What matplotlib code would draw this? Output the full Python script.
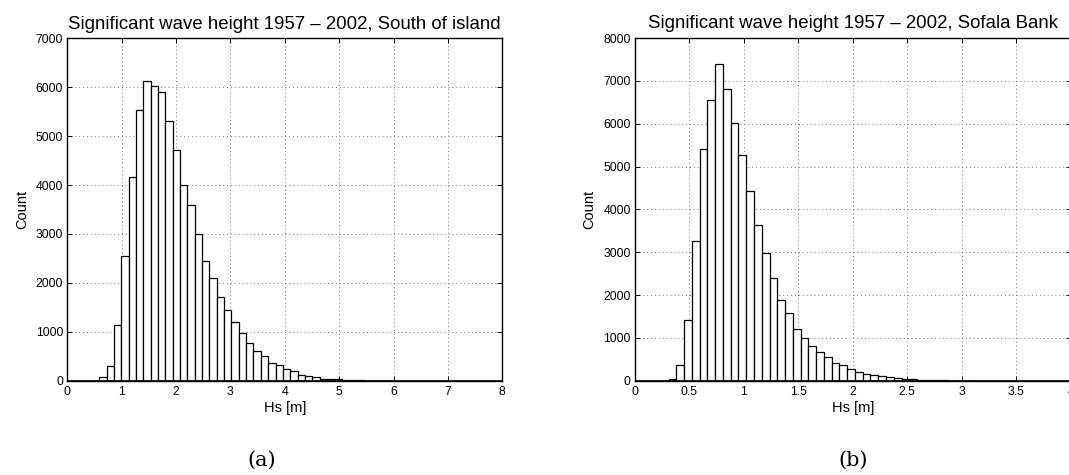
import numpy as np
import matplotlib
matplotlib.use("Agg")
import matplotlib.pyplot as plt

# ---- data ----
# (a) South of island
a_start = 0.587
a_width = 0.1351
a_counts = [85, 295, 1145, 2556, 4166, 5538, 6120, 6020, 5910, 5317, 4717, 4006,
            3602, 2992, 2444, 2100, 1712, 1436, 1195, 975, 768, 614, 497, 356,
            330, 234, 200, 125, 90, 75, 42, 28, 30, 12, 8, 5, 3, 2, 1]
a_xticks = [0, 1, 2, 3, 4, 5, 6, 7, 8]
a_yticks = [0, 1000, 2000, 3000, 4000, 5000, 6000, 7000]
a_title = "Significant wave height 1957 \u2013 2002, South of island"

# (b) Sofala Bank
b_start = 0.308
b_width = 0.0713
b_counts = [30, 360, 1410, 3265, 5400, 6560, 7400, 6810, 6025, 5280, 4435, 3625,
            2990, 2390, 1880, 1590, 1210, 990, 800, 675, 560, 420, 355, 270, 210,
            165, 125, 115, 78, 55, 40, 30, 23, 16, 9, 8, 4, 3, 2]
b_xticks = [0, 0.5, 1, 1.5, 2, 2.5, 3, 3.5, 4]
b_xticklabels = ["0", "0.5", "1", "1.5", "2", "2.5", "3", "3.5", "4"]
b_yticks = [0, 1000, 2000, 3000, 4000, 5000, 6000, 7000, 8000]
b_title = "Significant wave height 1957 \u2013 2002, Sofala Bank"

xlabel = "Hs [m]"
ylabel = "Count"
captions = ["(a)", "(b)"]

plt.rcParams['font.family'] = ['Liberation Sans', 'DejaVu Sans']

fig = plt.figure(figsize=(10.69, 4.75), dpi=100)
W, H = 1069, 475

def make_ax(x0, x1, ytop, ybot):
    return fig.add_axes([x0 / W, 1 - ybot / H, (x1 - x0) / W, (ybot - ytop) / H])

ax1 = make_ax(67.3, 502.3, 38.3, 380.7)
ax2 = make_ax(635.0, 1070.7, 38.0, 380.7)

def draw(ax, start, width, counts, xticks, xticklabels, yticks, xmax, ymax, title):
    counts = np.asarray(counts, dtype=float)
    edges = start + width * np.arange(len(counts))
    ax.bar(edges, counts, width=width, align='edge', color='white',
           edgecolor='black', linewidth=0.9, zorder=2)
    ax.axhline(0, color='black', linewidth=1.2, zorder=3)
    ax.set_xlim(0, xmax)
    ax.set_ylim(0, ymax)
    ax.set_xticks(xticks)
    ax.set_xticklabels(xticklabels)
    ax.set_yticks(yticks)
    ax.grid(True, linestyle=(0, (1, 3)), color='0.45', linewidth=0.7, zorder=0)
    ax.set_axisbelow(True)
    ax.tick_params(direction='in', top=True, right=True, length=3.5, width=0.7,
                   labelsize=8.8)
    ax.tick_params(axis='x', pad=4)
    ax.tick_params(axis='y', pad=3)
    for s in ax.spines.values():
        s.set_linewidth(1.0)
        s.set_zorder(5)
    ax.set_title(title, fontsize=13.4, pad=7)
    ax.set_xlabel(xlabel, fontsize=10.5, labelpad=2)
    ax.set_ylabel(ylabel, fontsize=10.5, labelpad=5)

draw(ax1, a_start, a_width, a_counts, a_xticks, [str(t) for t in a_xticks],
     a_yticks, 8, 7000, a_title)
draw(ax2, b_start, b_width, b_counts, b_xticks, b_xticklabels,
     b_yticks, 4, 8000, b_title)

fig.text(262 / W, 1 - 460 / H, captions[0], ha='center', va='center',
         fontsize=15, family=['DejaVu Serif'])
fig.text(853 / W, 1 - 460 / H, captions[1], ha='center', va='center',
         fontsize=15, family=['DejaVu Serif'])

fig.savefig("out.png", dpi=100)
